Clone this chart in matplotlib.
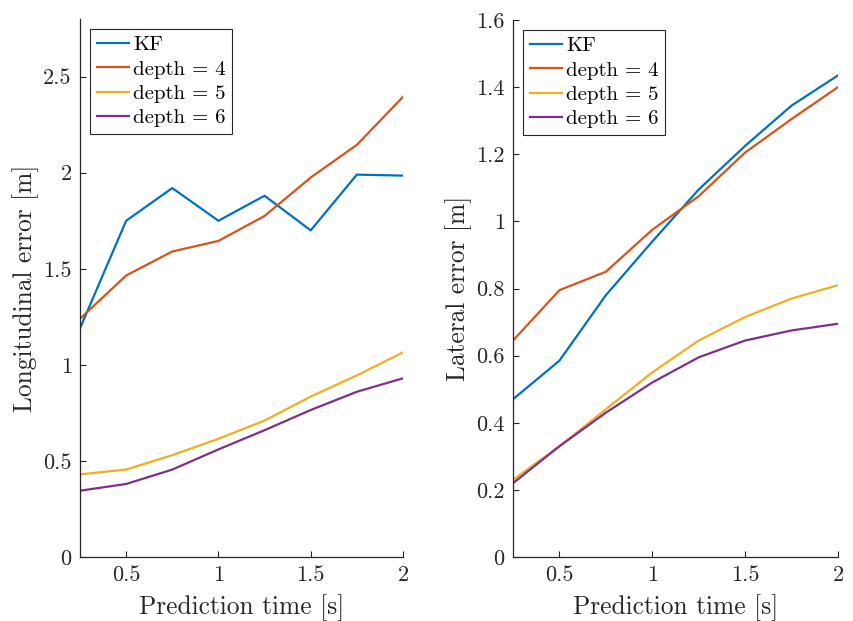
import matplotlib
matplotlib.use("Agg")
import matplotlib.pyplot as plt

plt.rcParams['font.family'] = ['cmr10', 'DejaVu Serif']
plt.rcParams['mathtext.fontset'] = 'cm'
plt.rcParams['axes.formatter.use_mathtext'] = True
plt.rcParams['axes.unicode_minus'] = False

t = [0.25, 0.5, 0.75, 1.0, 1.25, 1.5, 1.75, 2.0]
labels = ['KF', 'depth = 4', 'depth = 5', 'depth = 6']
colors = ['#0072BD', '#D95319', '#EDB120', '#7E2F8E']

lon_kf = [1.19, 1.75, 1.92, 1.75, 1.88, 1.70, 1.99, 1.985]
lon_d4 = [1.24, 1.465, 1.59, 1.645, 1.775, 1.975, 2.145, 2.395]
lon_d5 = [0.43, 0.455, 0.53, 0.615, 0.71, 0.835, 0.945, 1.065]
lon_d6 = [0.345, 0.38, 0.455, 0.56, 0.66, 0.765, 0.86, 0.93]

lat_kf = [0.47, 0.585, 0.78, 0.94, 1.095, 1.225, 1.345, 1.435]
lat_d4 = [0.645, 0.795, 0.85, 0.975, 1.075, 1.205, 1.305, 1.40]
lat_d5 = [0.23, 0.33, 0.44, 0.55, 0.645, 0.715, 0.77, 0.81]
lat_d6 = [0.22, 0.33, 0.43, 0.52, 0.595, 0.645, 0.675, 0.695]

xticks = [0.5, 1, 1.5, 2]
xticklabels = ['0.5', '1', '1.5', '2']
lon_yticks = [0, 0.5, 1, 1.5, 2, 2.5]
lon_yticklabels = ['0', '0.5', '1', '1.5', '2', '2.5']
lat_yticks = [0, 0.2, 0.4, 0.6, 0.8, 1.0, 1.2, 1.4, 1.6]
lat_yticklabels = ['0', '0.2', '0.4', '0.6', '0.8', '1', '1.2', '1.4', '1.6']

fig = plt.figure(figsize=(8.54, 6.21), dpi=100)
ax1 = fig.add_axes([80/854, 1-557/621, (403-80)/854, (557-19)/621])
ax2 = fig.add_axes([513/854, 1-557/621, (838-513)/854, (557-20)/621])

def style(ax, series, yticks, yticklabels, ylim, ylabel):
    for y, c, l in zip(series, colors, labels):
        ax.plot(t, y, color=c, lw=1.6, label=l)
    ax.set_xlim(0.25, 2)
    ax.set_ylim(*ylim)
    ax.set_xticks(xticks)
    ax.set_xticklabels(xticklabels)
    ax.set_yticks(yticks)
    ax.set_yticklabels(yticklabels)
    for s in ['top', 'right']:
        ax.spines[s].set_visible(False)
    for s in ['left', 'bottom']:
        ax.spines[s].set_color('#262626')
        ax.spines[s].set_linewidth(0.9)
    ax.tick_params(direction='in', length=4, width=0.8, colors='#262626',
                   labelsize=16, pad=6)
    ax.set_xlabel('Prediction time [s]', fontsize=18.3, color='#262626', labelpad=6.5)
    ax.set_ylabel(ylabel, fontsize=18.3, color='#262626', labelpad=3)
    leg = ax.legend(loc='upper left', fontsize=15, frameon=True, fancybox=False,
                    edgecolor='#262626', framealpha=1, handlelength=1.55,
                    handletextpad=0.2, borderpad=0.3, labelspacing=0.28,
                    borderaxespad=0.5)
    leg.get_frame().set_linewidth(0.8)

style(ax1, [lon_kf, lon_d4, lon_d5, lon_d6], lon_yticks, lon_yticklabels,
      (0, 2.8), 'Longitudinal error [m]')
style(ax2, [lat_kf, lat_d4, lat_d5, lat_d6], lat_yticks, lat_yticklabels,
      (0, 1.6), 'Lateral error [m]')

fig.savefig('out.png', dpi=100)
